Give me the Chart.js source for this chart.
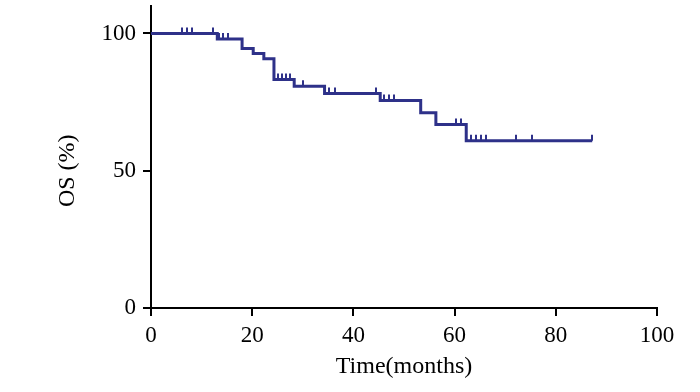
<!DOCTYPE html>
<html>
<head>
<meta charset="utf-8">
<script src="https://cdn.jsdelivr.net/npm/chart.js@4.4.1/dist/chart.umd.min.js"></script>
<style>
  html, body { margin: 0; padding: 0; background: #fff; }
  #wrap { width: 700px; height: 392px; }
</style>
</head>
<body>
<div id="wrap"><canvas id="osChart" width="700" height="392"></canvas></div>
<script>
// Kaplan-Meier steps: time of each drop and survival after it
const stepTimes = [0, 13.1, 18.0, 20.2, 22.3, 24.3, 28.3, 34.3, 45.3, 53.3, 56.3, 62.3, 87.2];
const stepValues = [100, 98.0, 94.5, 92.7, 90.8, 83.2, 80.8, 78.1, 75.6, 71.1, 66.8, 60.9, 60.9];

// censored observations (months)
const censorTimes = [6.1, 7.1, 8.1, 12.2, 13.5, 14.3, 15.2, 25.0, 25.8, 26.6, 27.5, 30.1,
    35.2, 36.4, 44.4, 46.0, 47.0, 48.1, 60.3, 61.3, 63.2, 64.2, 65.2, 66.2, 72.1, 75.2, 87.2];

const xTicks = [0, 20, 40, 60, 80, 100];
const yTicks = [0, 50, 100];

const lineColor = '#2e3189';
const fontFamily = '"Liberation Serif", "Times New Roman", serif';

function survivalAt(t) {
    let s = stepValues[0];
    for (let i = 0; i < stepTimes.length; i++) {
        if (stepTimes[i] <= t) s = stepValues[i];
    }
    return s;
}

// small vertical marks above the curve for censored cases
const censorPlugin = {
    id: 'censorMarks',
    afterDatasetsDraw(chart) {
        const { ctx, scales: { x, y } } = chart;
        ctx.save();
        ctx.strokeStyle = lineColor;
        ctx.lineWidth = 2;
        censorTimes.forEach(t => {
            const px = Math.round(x.getPixelForValue(t));
            const py = y.getPixelForValue(survivalAt(t));
            ctx.beginPath();
            ctx.moveTo(px, py);
            ctx.lineTo(px, py - 6);
            ctx.stroke();
        });
        ctx.restore();
    }
};

// y title sits level with the 50 tick in the original, not mid-axis
const yTitlePlugin = {
    id: 'yTitle',
    afterDraw(chart) {
        const { ctx, scales: { y } } = chart;
        ctx.save();
        ctx.translate(68, y.getPixelForValue(50));
        ctx.rotate(-Math.PI / 2);
        ctx.font = '24px ' + fontFamily;
        ctx.fillStyle = '#000';
        ctx.textAlign = 'center';
        ctx.textBaseline = 'middle';
        ctx.fillText('OS (%)', 0, 0);
        ctx.restore();
    }
};

const ctx = document.getElementById('osChart').getContext('2d');
new Chart(ctx, {
    type: 'scatter',
    data: {
        datasets: [{
            label: 'OS',
            data: stepTimes.map((t, i) => ({ x: t, y: stepValues[i] })),
            showLine: true,
            stepped: true,
            borderColor: lineColor,
            borderWidth: 3,
            pointRadius: 0,
            fill: false
        }]
    },
    options: {
        responsive: false,
        animation: false,
        layout: { padding: { left: 50, right: 43, top: 6, bottom: 7 } },
        plugins: {
            legend: { display: false },
            tooltip: { enabled: false }
        },
        scales: {
            x: {
                type: 'linear',
                min: 0,
                max: 100,
                afterBuildTicks: s => { s.ticks = xTicks.map(v => ({ value: v })); },
                afterFit: s => { s.height = 77; s.paddingLeft = 0; s.paddingRight = 0; },
                ticks: { color: '#000', font: { family: fontFamily, size: 23 }, padding: 6, maxRotation: 0 },
                grid: { drawOnChartArea: false, drawTicks: true, tickLength: 8, color: '#000', lineWidth: 2 },
                border: { display: true, color: '#000', width: 2 },
                title: { display: true, text: 'Time(months)', color: '#000', font: { family: fontFamily, size: 24 }, padding: { top: 0, bottom: 4 } }
            },
            y: {
                min: 0,
                max: 110,
                afterBuildTicks: s => { s.ticks = yTicks.map(v => ({ value: v })); },
                afterFit: s => { s.width = 101; s.paddingTop = 0; s.paddingBottom = 0; },
                ticks: { color: '#000', font: { family: fontFamily, size: 23 }, padding: 7 },
                grid: { drawOnChartArea: false, drawTicks: true, tickLength: 8, color: '#000', lineWidth: 2 },
                border: { display: true, color: '#000', width: 2 },
                title: { display: false }
            }
        }
    },
    plugins: [censorPlugin, yTitlePlugin]
});
</script>
</body>
</html>
